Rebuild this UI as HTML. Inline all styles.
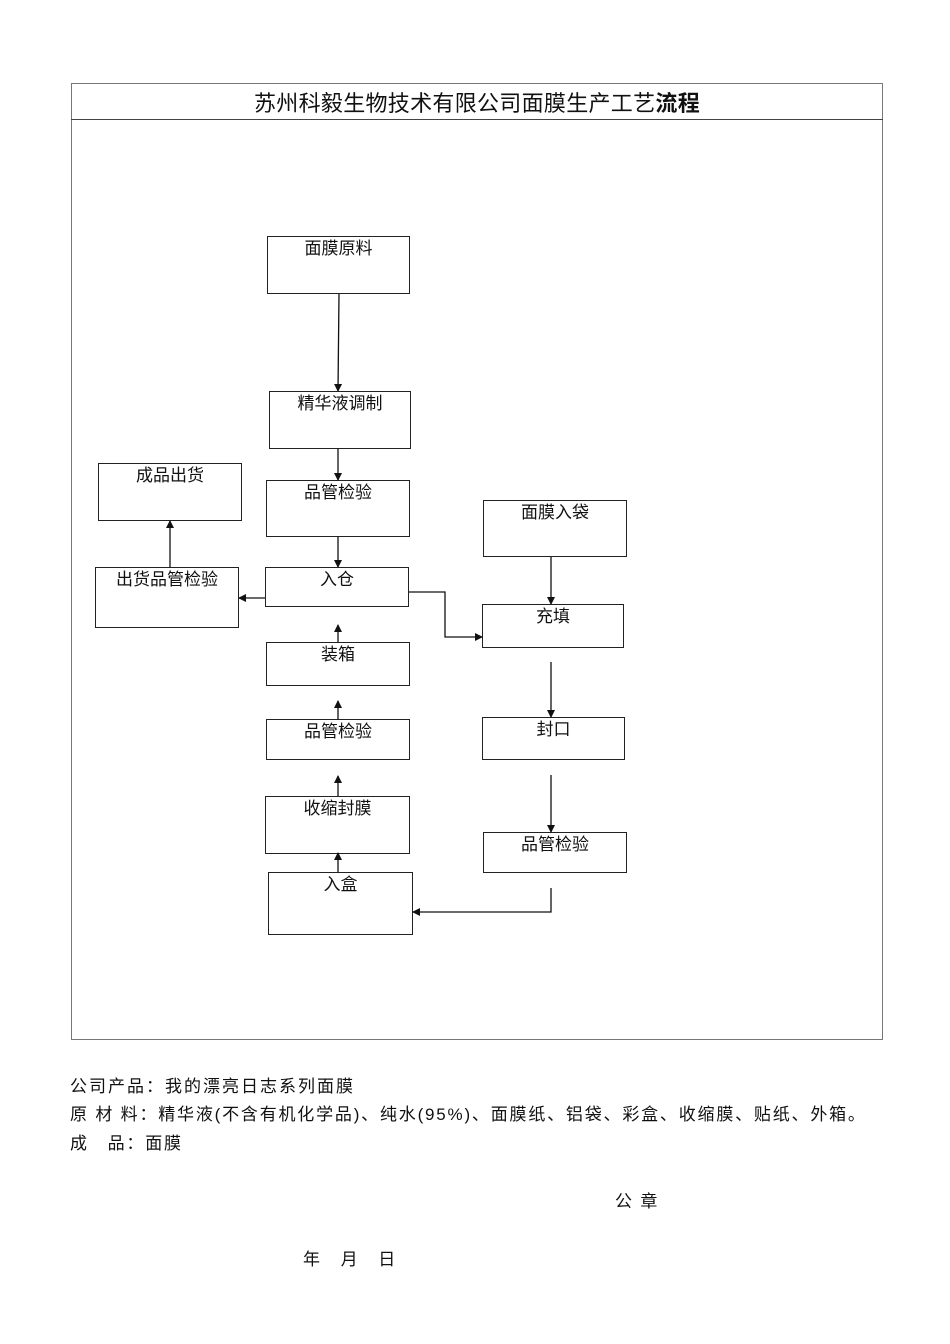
<!DOCTYPE html>
<html><head><meta charset="utf-8"><style>
body{margin:0;width:950px;height:1344px;background:#fff;position:relative;font-family:"Liberation Sans","Noto Sans CJK SC",sans-serif;color:#111}
.b{position:absolute;border:1.3px solid #222;box-sizing:border-box;text-align:center;font-size:17px;line-height:20px;padding-top:2px}
.t{position:absolute;font-size:17px;white-space:nowrap;letter-spacing:1.8px}
</style></head><body>
<div style="position:absolute;left:71px;top:83px;width:812px;height:957px;border:1px solid #777;box-sizing:border-box"></div>
<div style="position:absolute;left:71px;top:119px;width:812px;border-top:1px solid #444"></div>
<div class="t" style="left:254px;top:86px;font-size:22px;letter-spacing:0.3px">苏州科毅生物技术有限公司面膜生产工艺<b>流程</b></div>

<div class="b" style="left:267px;top:236px;width:143px;height:58px">面膜原料</div>
<div class="b" style="left:269px;top:391px;width:142px;height:58px">精华液调制</div>
<div class="b" style="left:98px;top:463px;width:144px;height:58px">成品出货</div>
<div class="b" style="left:266px;top:480px;width:144px;height:57px">品管检验</div>
<div class="b" style="left:483px;top:500px;width:144px;height:57px">面膜入袋</div>
<div class="b" style="left:95px;top:567px;width:144px;height:61px">出货品管检验</div>
<div class="b" style="left:265px;top:567px;width:144px;height:40px">入仓</div>
<div class="b" style="left:482px;top:604px;width:142px;height:44px">充填</div>
<div class="b" style="left:266px;top:642px;width:144px;height:44px">装箱</div>
<div class="b" style="left:266px;top:719px;width:144px;height:41px">品管检验</div>
<div class="b" style="left:482px;top:717px;width:143px;height:43px">封口</div>
<div class="b" style="left:265px;top:796px;width:145px;height:58px">收缩封膜</div>
<div class="b" style="left:483px;top:832px;width:144px;height:41px">品管检验</div>
<div class="b" style="left:268px;top:872px;width:145px;height:63px">入盒</div>

<svg width="950" height="1344" style="position:absolute;left:0;top:0" fill="none" stroke="#111" stroke-width="1.3">
<defs><marker id="a" markerWidth="8" markerHeight="8" refX="7" refY="4" orient="auto" markerUnits="userSpaceOnUse"><path d="M0,0L8,4L0,8z" fill="#111" stroke="none"/></marker></defs>
<g marker-end="url(#a)">
<path d="M339,294L338,391"/>
<path d="M338,449L338,480"/>
<path d="M338,537L338,567"/>
<path d="M170,567L170,521"/>
<path d="M265,598L239,598"/>
<path d="M409,592L445,592L445,637L482,637"/>
<path d="M551,557L551,604"/>
<path d="M338,642L338,625"/>
<path d="M338,719L338,701"/>
<path d="M338,796L338,776"/>
<path d="M338,872L338,853"/>
<path d="M551,662L551,717"/>
<path d="M551,775L551,832"/>
<path d="M551,888L551,912L413,912"/>
</g></svg>

<div class="t" style="left:70px;top:1072px;letter-spacing:2px">公司产品：我的漂亮日志系列面膜</div>
<div class="t" style="left:70px;top:1100px">原 材 料：精华液(不含有机化学品)、纯水(95%)、面膜纸、铝袋、彩盒、收缩膜、贴纸、外箱。</div>
<div class="t" style="left:70px;top:1129px">成　品：面膜</div>
<div class="t" style="left:615px;top:1187px">公 章</div>
<div class="t" style="left:303px;top:1245px">年　月　日</div>
</body></html>
